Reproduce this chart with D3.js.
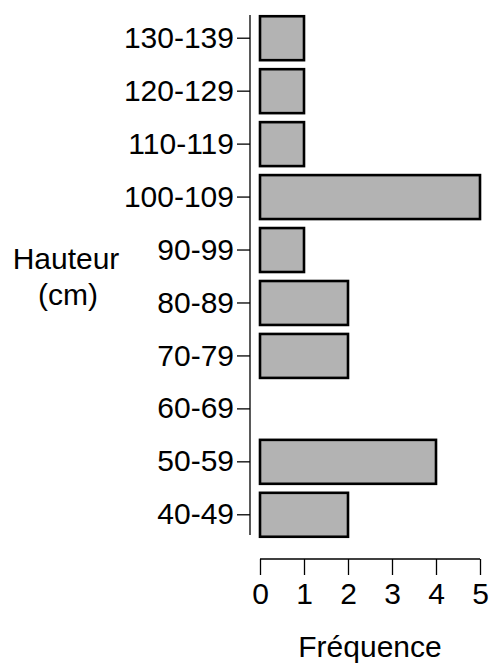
<!DOCTYPE html>
<html lang="fr">
<head>
<meta charset="UTF-8" />
<title>Hauteur - Fréquence</title>
<script src="https://d3js.org/d3.v7.min.js"></script>
<style>
  body { margin: 0; background: #fff; }
  svg text { font-family: "Liberation Sans", Arial, sans-serif; fill: #000; }
  .axis path, .axis line { stroke: #000; stroke-width: 1.3; }
  .bar { fill: #b3b3b3; stroke: #000; stroke-width: 2.6; }
</style>
</head>
<body>
<div id="chart"></div>
<script>
// classes de hauteur (bas -> haut) et fréquences
const classes = ["40-49", "50-59", "60-69", "70-79", "80-89", "90-99",
                 "100-109", "110-119", "120-129", "130-139"];
const frequences = [2, 4, 0, 2, 2, 1, 5, 1, 1, 1];
const xTicks = [0, 1, 2, 3, 4, 5];

const W = 494, H = 664;
const fontSize = 30;

const svg = d3.select("#chart").append("svg")
    .attr("width", W)
    .attr("height", H);

const x = d3.scaleLinear().domain([0, 5]).range([260, 480]);
const y = d3.scaleBand()
    .domain(classes)
    .range([541, 12])
    .paddingInner(0.17)
    .paddingOuter(0.08);

const data = classes.map((c, i) => ({ classe: c, n: frequences[i] }));

// barres (les classes vides ne sont pas dessinées)
svg.append("g")
  .selectAll("rect")
  .data(data.filter(d => d.n > 0))
  .enter()
  .append("rect")
    .attr("class", "bar")
    .attr("x", x(0))
    .attr("y", d => y(d.classe))
    .attr("width", d => x(d.n) - x(0))
    .attr("height", y.bandwidth());

// axe vertical
const yAxis = svg.append("g")
    .attr("class", "axis")
    .attr("transform", "translate(250,0)")
    .call(d3.axisLeft(y).tickSizeInner(13).tickSizeOuter(0).tickPadding(3));
yAxis.selectAll("text")
    .style("font-size", fontSize + "px");
yAxis.select(".domain").attr("d", `M0,15V535`);

// axe horizontal
const xAxis = svg.append("g")
    .attr("class", "axis")
    .attr("transform", "translate(0,559)")
    .call(d3.axisBottom(x).tickValues(xTicks).tickFormat(d3.format("d"))
        .tickSize(16).tickSizeOuter(0).tickPadding(8));
xAxis.selectAll("text")
    .style("font-size", fontSize + "px");
xAxis.select(".domain").attr("d", `M${x(0)},0H${x(5)}`);

// titres
svg.append("text")
    .attr("x", (x(0) + x(5)) / 2)
    .attr("y", 657)
    .attr("text-anchor", "middle")
    .style("font-size", fontSize + "px")
    .text("Fréquence");

const yTitle = svg.append("text")
    .attr("text-anchor", "middle")
    .style("font-size", fontSize + "px");
yTitle.append("tspan").attr("x", 66).attr("y", 269).text("Hauteur");
yTitle.append("tspan").attr("x", 68).attr("y", 305).text("(cm)");
</script>
</body>
</html>
